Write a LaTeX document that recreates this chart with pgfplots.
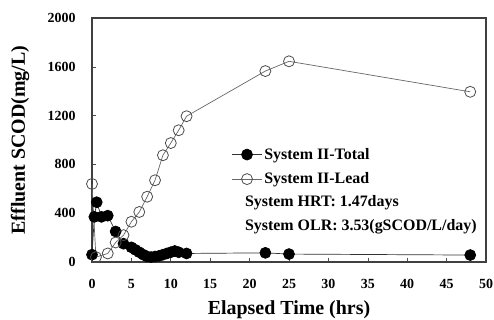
\documentclass[border=0pt]{standalone}
\usepackage{fontspec}
\setmainfont{Liberation Serif}
\usepackage{pgfplots}
\pgfplotsset{compat=1.18}
\begin{document}
\begin{tikzpicture}
\begin{axis}[
  at={(0,0)}, anchor=south west,
  scale only axis, width=394bp, height=244bp,
  xmin=0, xmax=50, ymin=0, ymax=2000,
  xtick={0,5,...,50}, ytick={0,400,...,2000},
  tick align=inside, xtick pos=bottom, ytick pos=left,
  major tick length=4bp,
  axis line style={line width=1.6bp, black!75},
  tick style={black!70, line width=0.6bp},
  /pgf/number format/assume math mode=true,
  /pgf/number format/1000 sep={},
  ticklabel style={font=\fontsize{14}{16}\selectfont\bfseries},
  yticklabel style={xshift=-13bp},
  xticklabel style={yshift=-14bp},
  xlabel={Elapsed Time (hrs)}, ylabel={Effluent SCOD(mg/L)},
  label style={font=\fontsize{20}{22}\selectfont\bfseries},
  xlabel style={at={(axis description cs:0.5,0)}, anchor=center, yshift=-48bp},
  ylabel style={at={(axis description cs:0,0.5)}, anchor=center, rotate=0, yshift=72bp},
  legend style={at={(axis cs:17.7,950)}, anchor=north west, draw=none, fill=none,
    inner xsep=0pt, inner ysep=0pt,
    font=\fontsize{16}{18}\selectfont\bfseries, row sep=8bp},
  legend cell align=left,
  legend image code/.code={
    \draw[mark repeat=2,mark phase=2,#1] plot coordinates {(0bp,0bp) (15bp,0bp) (30bp,0bp)};
  },
]
\addplot[black!80, line width=0.7bp, mark=*, mark size=5.5bp, mark options={fill=black, draw=black}] coordinates {
(0,60) (0.3,370) (0.6,490) (1.2,370) (2,380) (3,250) (4,150) (5,120) (5.5,100) (6,80) (6.5,60) (7,45) (7.5,40) (8,45) (8.5,50) (9,60) (9.5,70) (10,80) (10.5,90) (11,80) (12,70) (22,75) (25,65) (48,57)
};
\addlegendentry{System II-Total}
\addplot[black!60, line width=0.7bp, mark=o, mark size=5.5bp, mark options={fill=white, draw=black!70, line width=0.8bp}] coordinates {
(0,640) (0.5,40) (2,70) (3,160) (4,220) (5,330) (6,410) (7,535) (8,670) (9,875) (10,975) (11,1080) (12,1195) (22,1565) (25,1645) (48,1395)
};
\addlegendentry{System II-Lead}
\node[anchor=west, font=\fontsize{16}{18}\selectfont\bfseries, inner sep=0] at (axis cs:19.4,490) {System HRT: 1.47days};
\node[anchor=west, font=\fontsize{16}{18}\selectfont\bfseries, inner sep=0] at (axis cs:19.4,287) {System OLR: 3.53(gSCOD/L/day)};
\end{axis}
\pgfresetboundingbox
\path[use as bounding box] (-92bp,-58bp) rectangle (402bp,262bp);
\end{tikzpicture}
\end{document}
